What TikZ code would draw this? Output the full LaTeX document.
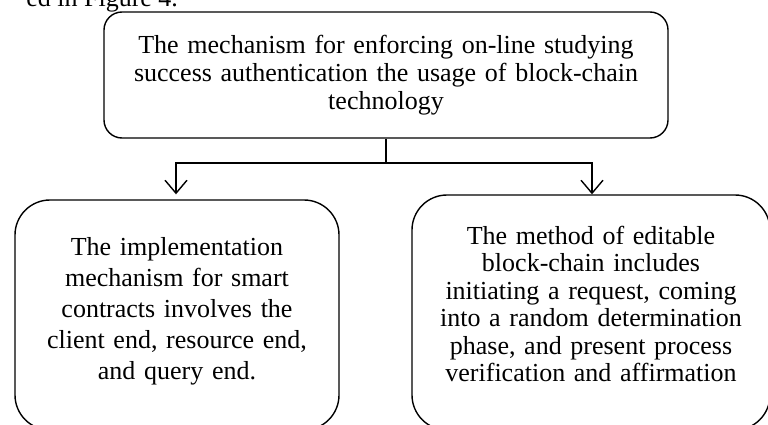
\documentclass[tikz,border=0pt]{standalone}
\usepackage{fontspec}
\setmainfont{Liberation Serif}
\usepackage{tikz}
\usetikzlibrary{arrows.meta}

\tikzset{
	box/.style={draw, line width=1.4pt, align=center, inner sep=0pt},
	>={Straight Barb[length=13pt,width=22pt]}
}

\begin{document}
\begin{tikzpicture}[x=1pt,y=1pt,line width=1.4pt]
		\clip (0,0) rectangle (768,-425);
		
		\node [anchor=base east, font=\fontsize{26}{28}\selectfont] (caption) at (182,-7) {ed in Figure 4.};
		
		\node [box, rounded corners=18pt, minimum width=564pt, minimum height=126pt, text width=540pt,
			font=\fontsize{26}{28}\selectfont] (top) at (386,-75)
			{The mechanism for enforcing on-line studying\\
			 success authentication the usage of block-chain\\
			 technology};
		
		\node [box, rounded corners=35pt, minimum width=324pt, minimum height=230pt, text width=300pt,
			font=\fontsize{26}{31}\selectfont] (leftbox) at (177,-315)
			{The implementation\\ mechanism for smart\\ contracts involves the\\
			 client end, resource end,\\ and query end.\\[-17pt]\mbox{}};
		
		\node [box, rounded corners=35pt, minimum width=358pt, minimum height=235pt, text width=340pt,
			font=\fontsize{26}{27.5}\selectfont] (rightbox) at (591,-312.5)
			{The method of editable\\ block-chain includes\\ initiating a request, coming\\
			 into a random determination\\ phase, and present process\\
			 verification and affirmation\\[-10pt]\mbox{}};
		
		\coordinate (split) at (386,-163);
		\draw (top.south) -- (split);
		\draw [->] (split) -| ([shift={(-1,5)}]leftbox.north);
		\draw [->] (split) -| ([xshift=1pt]rightbox.north);
	\end{tikzpicture}
\end{document}
